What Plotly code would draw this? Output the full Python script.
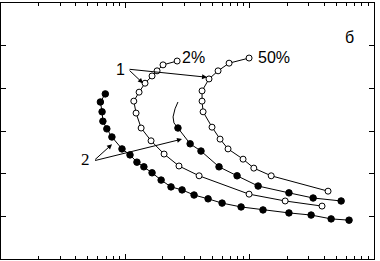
import plotly.graph_objects as go

# Curve 2, 2% (filled, outer)
f1_x = [6.9, 6.3, 6.5, 6.6, 7.1, 7.8, 9.4, 10.9, 12.4, 14.1, 16.4, 19.4, 23.3, 28.6,
        35.7, 46.3, 60.0, 85.3, 128, 207, 312, 452, 630]
f1_y = [3.87, 3.68, 3.45, 3.23, 3.05, 2.86, 2.58, 2.44, 2.27, 2.16, 2.02, 1.85, 1.69, 1.62,
        1.50, 1.41, 1.31, 1.22, 1.15, 1.08, 1.03, 0.94, 0.91]

# Curve 2, 50% (filled, inner) - unmarked upper part and marked part
f2_line_x = [26.5, 25.1, 24.2, 24.6, 26.5]
f2_line_y = [3.68, 3.52, 3.33, 3.19, 3.07]
f2_x = [26.5, 33.2, 40.6, 56.7, 79.2, 117, 207, 324, 544]
f2_y = [3.07, 2.70, 2.53, 2.16, 1.95, 1.71, 1.55, 1.43, 1.36]

# Curve 1, 2% (open)
o1_x = [26.1, 20.1, 18.0, 16.4, 14.4, 12.9, 11.7, 12.2, 13.4, 16.1, 20.5, 27.0, 39.2,
        98.9, 193, 382]
o1_y = [4.64, 4.55, 4.41, 4.29, 4.12, 3.91, 3.70, 3.42, 3.07, 2.77, 2.46, 2.18, 1.95,
        1.52, 1.36, 1.24]

# Curve 1, 50% (open)
o2_x = [98.9, 68.3, 55.7, 47.1, 41.4, 41.4, 42.2, 49.8, 57.8, 67.0, 88.5, 108, 149, 427]
o2_y = [4.71, 4.59, 4.41, 4.22, 3.94, 3.70, 3.45, 3.09, 2.81, 2.58, 2.34, 2.13, 1.95, 1.59]

fig = go.Figure()

def add(x, y, filled):
    fig.add_trace(go.Scatter(
        x=x, y=y, mode="lines+markers",
        line=dict(color="black", width=1),
        marker=dict(symbol="circle", size=6.5 if filled else 6,
                    color="black" if filled else "white",
                    line=dict(color="black", width=1)),
        showlegend=False))

fig.add_trace(go.Scatter(x=f2_line_x, y=f2_line_y, mode="lines",
                         line=dict(color="black", width=1), showlegend=False))
add(f1_x, f1_y, True)
add(f2_x, f2_y, True)
add(o1_x, o1_y, False)
add(o2_x, o2_y, False)

font = dict(family="Liberation Sans, Arial, sans-serif", size=16, color="black")

# arrows (x in log10 units for log axis)
arrows = [
    (1.022, 4.45, 1.142, 4.12),
    (1.022, 4.45, 1.657, 4.26),
    (0.745, 2.30, 0.893, 2.69),
    (0.745, 2.30, 1.456, 2.81),
]
for ax_, ay_, hx, hy in arrows:
    fig.add_annotation(x=hx, y=hy, ax=ax_, ay=ay_, xref="x", yref="y",
                       axref="x", ayref="y", text="", showarrow=True,
                       arrowhead=2, arrowsize=1, arrowwidth=1, arrowcolor="black")

fig.add_annotation(x=1.015, y=4.43, text="1", showarrow=False, xanchor="right",
                   yanchor="middle", font=font)
fig.add_annotation(x=0.735, y=2.34, text="2", showarrow=False, xanchor="right",
                   yanchor="middle", font=dict(family="Liberation Serif, serif", size=17, color="black"))
fig.add_annotation(x=1.545, y=4.73, text="2%", showarrow=False, xanchor="center",
                   yanchor="middle", font=font)
fig.add_annotation(x=2.196, y=4.73, text="50%", showarrow=False, xanchor="center",
                   yanchor="middle", font=font)
fig.add_annotation(x=2.80, y=5.20, text="б", showarrow=False, xanchor="center",
                   yanchor="middle", font=dict(family="Liberation Sans, Arial, sans-serif", size=16, color="black"))

fig.update_xaxes(type="log", range=[0, 3], dtick=1, showticklabels=False,
                 ticks="inside", ticklen=5, tickcolor="black", showgrid=False,
                 zeroline=False, showline=True, linecolor="black", linewidth=1,
                 mirror="ticks",
                 minor=dict(dtick="D1", ticks="inside", ticklen=3, tickcolor="black",
                            showgrid=False))
fig.update_yaxes(range=[0, 6], dtick=1, showticklabels=False,
                 ticks="inside", ticklen=5, tickcolor="black", showgrid=False,
                 zeroline=False, showline=True, linecolor="black", linewidth=1,
                 mirror="ticks")

fig.update_layout(width=380, height=261, margin=dict(l=1, r=6, t=3, b=2),
                  plot_bgcolor="white", paper_bgcolor="white")

fig.write_html("out.html", config={"displayModeBar": False},
               post_script="document.body.style.margin='0px';document.body.style.overflow='hidden';")
